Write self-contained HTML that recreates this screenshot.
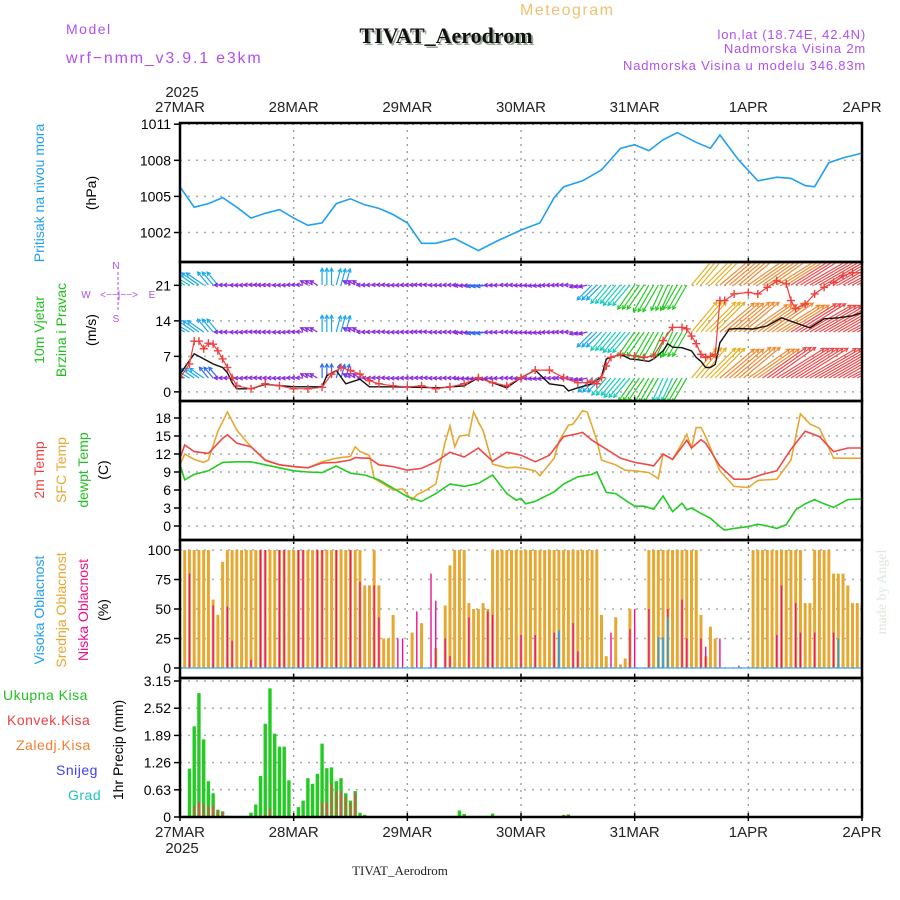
<!DOCTYPE html>
<html><head><meta charset="utf-8"><style>
body{margin:0;background:#fff;}
svg{display:block;font-family:"Liberation Sans",sans-serif;}
</style></head><body>
<svg id="c" width="900" height="900" viewBox="0 0 900 900">
<text x="520" y="15" font-size="16" fill="#f0c070" letter-spacing="1.5">Meteogram</text>
<text x="66" y="34" font-size="14" fill="#b050f0" letter-spacing="1.5">Model</text>
<text x="66" y="63" font-size="16" fill="#b050f0" letter-spacing="1.8">wrf−nmm_v3.9.1 e3km</text>
<text x="446" y="43" font-size="22" font-weight="bold" font-family="Liberation Serif,serif" text-anchor="middle" fill="#9a9" transform="translate(2,2)">TIVAT_Aerodrom</text>
<text x="446" y="43" font-size="22" font-weight="bold" font-family="Liberation Serif,serif" text-anchor="middle" fill="#111">TIVAT_Aerodrom</text>
<text x="866" y="39" font-size="13" fill="#b050f0" text-anchor="end" letter-spacing="0.8">lon,lat (18.74E, 42.4N)</text>
<text x="866" y="53" font-size="13" fill="#b050f0" text-anchor="end" letter-spacing="0.8">Nadmorska Visina 2m</text>
<text x="866" y="70" font-size="13" fill="#b050f0" text-anchor="end" letter-spacing="0.8">Nadmorska Visina u modelu 346.83m</text>
<g id="plots"></g>
<text transform="translate(44,193) rotate(-90)" font-size="14" fill="#20a0f0" text-anchor="middle">Pritisak na nivou mora</text>
<text transform="translate(96,193) rotate(-90)" font-size="14" fill="#000" text-anchor="middle">(hPa)</text>
<text transform="translate(44,330) rotate(-90)" font-size="14" fill="#20c020" text-anchor="middle">10m Vjetar</text>
<text transform="translate(66,330) rotate(-90)" font-size="14" fill="#20c020" text-anchor="middle">Brzina i Pravac</text>
<text transform="translate(96,330) rotate(-90)" font-size="14" fill="#000" text-anchor="middle">(m/s)</text>
<g font-size="10" fill="#b050f0">
<text x="116" y="269" text-anchor="middle">N</text>
<text x="86" y="298" text-anchor="middle">W</text>
<text x="152" y="298" text-anchor="middle">E</text>
<text x="116" y="322" text-anchor="middle">S</text>
<text x="119" y="298" text-anchor="middle" font-size="10">&lt;−−|−−&gt;</text>
<line x1="118" y1="272" x2="118" y2="312" stroke="#b050f0" stroke-dasharray="3,2"/>
</g>
<text transform="translate(44,470) rotate(-90)" font-size="14" fill="#f04040" text-anchor="middle">2m Temp</text>
<text transform="translate(66,470) rotate(-90)" font-size="14" fill="#e8a830" text-anchor="middle">SFC Temp</text>
<text transform="translate(88,470) rotate(-90)" font-size="14" fill="#20c020" text-anchor="middle">dewpt Temp</text>
<text transform="translate(108,470) rotate(-90)" font-size="14" fill="#000" text-anchor="middle">(C)</text>
<text transform="translate(44,610) rotate(-90)" font-size="14" fill="#20a0f0" text-anchor="middle">Visoka Oblacnost</text>
<text transform="translate(66,610) rotate(-90)" font-size="14" fill="#e8a830" text-anchor="middle">Srednja Oblacnost</text>
<text transform="translate(88,610) rotate(-90)" font-size="14" fill="#f0108a" text-anchor="middle">Niska Oblacnost</text>
<text transform="translate(108,610) rotate(-90)" font-size="14" fill="#000" text-anchor="middle">(%)</text>
<text x="3" y="700" font-size="14" fill="#20c020" letter-spacing="0.5">Ukupna Kisa</text>
<text x="7" y="725" font-size="14" fill="#f04040" letter-spacing="0.5">Konvek.Kisa</text>
<text x="16" y="750" font-size="14" fill="#f08030" letter-spacing="0.5">Zaledj.Kisa</text>
<text x="56" y="775" font-size="14" fill="#4040f0" letter-spacing="0.5">Snijeg</text>
<text x="68" y="800" font-size="14" fill="#20c0c0" letter-spacing="0.5">Grad</text>
<text transform="translate(123,750) rotate(-90)" font-size="14" fill="#000" text-anchor="middle">1hr Precip (mm)</text>
<text transform="translate(886,592) rotate(-90)" font-size="14" fill="#dde8dd" font-family="Liberation Serif,serif" text-anchor="middle">made by Angel</text>
<text x="400" y="875" font-size="13" font-family="Liberation Serif,serif" text-anchor="middle" fill="#222">TIVAT_Aerodrom</text>
</svg>
<script>
const dayLabels=["27MAR","28MAR","29MAR","30MAR","31MAR","1APR","2APR"];
const pressTicks=[1002,1005,1008,1011];
const windTicks=[0,7,14,21];
const tempTicks=[0,3,6,9,12,15,18];
const cloudTicks=[0,25,50,75,100];
const precipTicks=[0,0.63,1.26,1.89,2.52,3.15];

const pressHours=[0,3,6,9,12,15,18,21,24,27,30,33,36,39,42,45,48,51,54,58,63,67,72,76,79,81,85,89,93,96,99,102,105,109,112,114,118,122,126,129,132,134,137,140,144];
const pressVals=[1005.8,1004.1,1004.4,1004.9,1004.1,1003.2,1003.6,1003.9,1003.2,1002.6,1002.8,1004.4,1004.8,1004.3,1004.0,1003.5,1002.8,1001.1,1001.1,1001.5,1000.5,1001.3,1002.2,1002.8,1004.9,1005.8,1006.3,1007.2,1009.0,1009.3,1008.8,1009.7,1010.3,1009.5,1009.0,1010.1,1008.0,1006.3,1006.6,1006.5,1005.9,1005.8,1007.8,1008.2,1008.6];

const t2Hours=[0,1,3,6,9,10,12,15,18,21,24,27,30,33,36,37,39,40,42,45,48,51,54,57,60,63,66,69,72,75,78,81,84,85,87,90,93,96,99,100,102,104,106,107,108,110,111,114,117,120,123,126,129,132,135,138,141,144];
const t2Vals=[11.3,13.5,12.4,12.1,14.6,15.2,13.8,13.2,11.0,10.2,9.9,9.7,10.5,10.6,11.0,11.4,11.3,11.3,10.2,9.9,9.3,9.6,10.7,12.3,11.5,13.0,10.8,12.3,11.8,10.7,11.8,14.9,15.4,15.6,14.3,12.8,11.3,10.6,10.2,10.0,12.0,11.1,13.2,14.3,13.0,14.4,13.8,10.0,7.8,7.8,8.6,9.2,12.8,15.8,14.9,12.4,13.0,13.0];
const sfcHours=[0,1,3,5,6,8,10,12,14,15,18,21,24,27,30,33,36,37,38,40,41,43,45,47,49,50,52,54,56,57,58,59,61,62,63,64,66,69,71,72,75,76,79,80,82,83,85,86,88,89,90,92,94,96,99,101,102,104,106,107,108,109,110,111,114,117,120,122,126,129,131,133,135,138,141,144];
const sfcVals=[10.2,12.0,11.1,10.6,11.0,15.8,19.0,16.0,14.1,13.2,10.9,10.2,9.9,9.7,10.7,11.3,11.6,13.2,12.4,11.8,7.9,7.0,6.0,6.2,4.3,5.2,6.0,7.0,14.0,16.7,13.2,15.0,15.2,19.0,17.3,15.9,10.3,9.7,9.8,9.7,9.2,8.4,11.3,14.1,16.8,17.0,19.2,19.0,14.3,11.0,10.7,10.2,9.3,9.2,8.9,7.9,12.0,11.1,13.8,15.3,13.0,16.4,16.4,14.9,9.2,6.6,6.4,7.6,7.8,11.0,18.7,17.0,16.3,11.3,11.3,11.3];
const dewHours=[0,1,3,6,9,12,15,18,21,24,27,30,33,36,39,42,45,48,51,54,57,60,63,66,69,71,72,73,75,79,81,84,87,88,90,92,95,96,98,100,102,104,106,107,108,110,112,114,115,117,120,122,124,126,128,130,132,134,136,138,141,144];
const dewVals=[10.2,7.7,8.6,9.2,10.6,10.7,10.7,10.2,9.7,9.2,9.0,8.9,10.0,8.8,8.5,7.7,6.3,4.9,4.1,5.4,7.0,6.6,7.1,8.5,5.4,4.3,4.6,3.7,4.1,5.7,7.0,8.2,8.6,9.0,5.6,5.4,3.8,3.3,3.3,2.8,5.0,2.4,3.8,2.7,3.0,2.1,1.3,-0.1,-0.7,-0.4,-0.1,0.3,0.0,-0.4,0.2,2.7,3.7,4.4,3.7,3.1,4.4,4.5];

const spdHours=[0,2,3,4,5,6,7,8,9,10,11,12,15,18,21,24,27,30,32,34,36,38,40,42,45,48,51,54,57,60,63,66,69,72,75,78,81,84,86,87,88,89,90,91,93,96,98,100,102,104,106,107,108,109,110,111,112,113,114,115,117,120,122,124,126,128,129,130,132,134,136,138,140,142,144];
const spdVals=[2.8,5.5,10,10,8.5,9.6,9.4,8.1,6.5,4.8,2.8,1.2,0.6,1.6,1.2,0.6,0.6,0.9,3.5,4.8,4.2,3.5,2.2,1.6,1.2,1.0,1.2,0.6,1.0,1.6,2.8,1.8,1.2,2.8,4.3,4.3,2.8,1.8,1.8,2.1,1.6,2.8,5.1,6.8,7.4,7.1,6.8,7.1,10.1,12.7,12.7,12.4,11,9.5,7.4,6.8,7.0,7.4,18,18,19.3,19.6,19.3,20.6,21.9,21.3,18,16.4,17.3,19.3,20.6,21.6,22.9,23.5,23.5];
const gustHours=[0,3,5,7,9,10,11,12,15,18,24,30,31,33,35,38,40,45,50,55,60,63,66,69,72,75,78,81,82,84,87,89,90,93,95,97,99,100,102,103,104,106,108,109,110,111,112,113,114,116,118,121,124,127,130,133,136,139,142,144];
const gustVals=[3.5,7.5,6.5,5.5,4.8,3.8,1.8,0.6,0.6,1.5,1.0,1.0,3.2,4.2,1.6,2.5,1.0,1.0,0.9,0.8,1.2,2.8,1.8,0.8,2.8,4.3,1.6,1.2,0.2,0.8,1.6,3.0,6.5,7.4,6.5,6.3,6.0,6.5,8.1,9.5,8.8,8.7,8.1,6.8,6.0,4.8,4.8,5.4,9.7,12.4,12.5,12.4,13.0,14.6,13.6,12.6,14.4,14.6,15.0,15.6];

// wind arrows, every 3 hours: direction arrow points to (deg, 0 = up, clockwise)
const windDir=[300,305,320,270,268,272,270,268,272,300,0,15,300,270,272,268,270,272,268,270,265,262,268,270,265,262,268,270,255,225,220,220,215,210,205,210,40,45,50,50,55,55,58,58,60,60,60,62,62];
const windLow=[7,6,5,3,2.5,2.5,2.5,2.5,2.5,3,5,5,3,2.5,2.5,2.5,2.5,2.5,2.5,2.5,3,3,3,2.5,2.5,2.5,2.5,3,3,7,8,9,10,10,9,10,14,15,16,17,18,19,20,20,21,21,22,22,22];
const windMid=[7.5,7,6,3,2.5,2.5,2.8,2.5,2.5,3,6,6,3,2.8,2.5,2.5,2.5,2.8,2.5,2.5,3.5,4,3,2.5,2.5,2.5,2.8,3,3,7.5,8.5,9.5,10.5,11,10,10,14,15,16,16.5,17,18,18,19,19,20,20,20,20];
const windTop=[8,7.5,6,3,2.5,2.5,2.8,2.5,2.5,3,6,6,3,2.8,2.5,2.5,2.5,2.8,2.5,2.5,3.5,4,3,2.5,2.5,2.5,2.8,3,3,7.5,8.5,9.5,10.5,11,10,10,14,15,16,16.5,17,18,18,19,19,20,20,20,20];

const midCloud=[100,100,100,100,100,100,58,45,90,100,100,100,100,100,100,100,100,100,100,100,100,100,100,100,100,100,100,100,100,100,100,100,100,100,100,100,100,100,70,70,100,70,25,25,45,0,0,0,30,0,38,0,0,17,0,53,87,100,100,100,55,50,50,55,50,100,100,100,100,100,100,100,100,100,100,100,100,100,100,100,100,100,100,100,100,100,100,100,45,10,0,43,3,8,50,0,0,0,100,100,100,100,100,100,100,100,100,100,100,45,10,35,25,0,0,0,0,0,0,0,100,100,100,100,100,100,100,100,100,100,100,55,55,100,100,100,100,80,80,80,70,55,55,55];
const lowCloud=[0,80,0,0,0,0,53,0,0,52,23,0,0,0,7,0,100,100,0,0,100,100,0,0,100,100,0,0,100,100,0,0,100,0,0,100,0,73,0,0,70,43,0,0,0,25,25,0,0,48,0,0,80,57,0,25,10,0,0,0,43,0,0,0,48,45,0,0,0,0,0,28,0,0,28,0,0,0,30,30,0,0,38,14,0,0,0,0,0,0,30,0,0,0,33,50,0,0,50,0,0,0,50,0,0,58,25,0,0,25,18,0,0,25,0,0,0,2,0,0,0,0,0,0,0,28,70,0,0,55,30,0,0,30,0,0,0,30,0,0,0,0,0,0];
const highCloud=[0,0,0,0,0,0,0,0,0,0,0,0,0,0,0,0,0,0,0,0,0,0,0,0,0,0,0,0,0,0,0,0,0,0,0,0,0,0,0,0,0,0,0,0,0,0,0,0,0,0,0,0,0,0,0,0,0,0,0,0,0,0,0,0,0,0,0,0,0,0,0,0,0,0,0,0,0,0,0,32,0,0,0,0,0,0,0,0,0,0,0,0,0,0,0,0,0,0,0,0,26,26,43,0,0,0,0,0,0,0,0,0,0,0,0,0,0,0,0,0,0,0,0,0,0,0,0,0,0,0,0,0,0,0,0,0,0,0,25,0,0,0,0,0];

const totalPrecip=[0.03,1.12,2.1,2.87,1.8,0.83,0.55,0.17,0.13,0.03,0.01,0,0.01,0.02,0.1,0.29,0.95,2.16,2.98,1.93,1.63,1.63,0.85,0,0.23,0.38,0.9,0.77,1.0,1.7,1.13,1.15,0.83,0.9,0.55,0.38,0.6,0.1,0.05,0,0,0,0,0,0,0,0,0,0,0,0,0,0,0,0,0,0,0,0.15,0.07,0,0,0,0,0,0.08,0,0,0,0,0,0,0,0,0,0,0,0,0,0,0.05,0.06,0,0,0,0,0,0,0,0,0,0,0,0,0,0,0,0,0,0,0,0,0,0,0,0,0,0,0,0,0,0,0,0,0,0,0,0,0,0,0,0,0,0,0,0,0,0,0,0,0,0,0,0,0,0,0,0,0,0,0,0];
const convPrecip=[0,0,0.25,0.35,0.3,0.25,0.27,0.15,0.13,0.02,0,0,0,0,0.01,0.02,0.03,0.05,0.2,0,0,0,0,0,0,0,0,0,0,0.35,0.33,0.77,0.6,0.6,0.47,0.33,0.55,0.05,0,0,0,0,0,0,0,0,0,0,0,0,0,0,0,0,0,0,0,0,0,0,0,0,0,0,0,0,0,0,0,0,0,0,0,0,0,0,0,0,0,0,0.04,0.05,0,0,0,0,0,0,0,0,0,0,0,0,0,0,0,0,0,0,0,0,0,0,0,0,0,0,0,0,0,0,0,0,0,0,0,0,0,0,0,0,0,0,0,0,0,0,0,0,0,0,0,0,0,0,0,0,0,0,0,0];

const NS="http://www.w3.org/2000/svg";
const X0=180,X1=862,H=144;
function X(h){return X0+(X1-X0)*h/H;}
function mk(tag,attrs,parent){const e=document.createElementNS(NS,tag);for(const k in attrs)e.setAttribute(k,attrs[k]);parent.appendChild(e);return e;}
const root=document.getElementById('plots');
const panels=[
 {name:'pressure',top:123,bot:262,min:999.55,max:1011.1,ticks:pressTicks,fmt:v=>v},
 {name:'wind',top:262,bot:401,min:-1.8,max:25.6,ticks:windTicks,fmt:v=>v},
 {name:'temp',top:401,bot:540,min:-2.33,max:20.83,ticks:tempTicks,fmt:v=>v},
 {name:'cloud',top:540,bot:678,min:-8.5,max:108.5,ticks:cloudTicks,fmt:v=>v},
 {name:'precip',top:678,bot:817,min:0,max:3.22,ticks:precipTicks,fmt:v=>v}
];
function Yf(p){return v=>p.bot-(v-p.min)/(p.max-p.min)*(p.bot-p.top);}
panels.forEach(p=>{
 const Y=Yf(p);p.Y=Y;
 const g=mk('g',{},root);
 
 
 p.g=g;
 const cp=mk('clipPath',{id:'clip-'+p.name},g);
 mk('rect',{x:X0,y:p.top,width:X1-X0,height:p.bot-p.top},cp);
 for(let d=1;d<6;d++){const l=mk('line',{x1:X(d*24),x2:X(d*24),y1:p.top,y2:p.bot,stroke:'#999','stroke-dasharray':'2,5','stroke-width':1.3},g);
  
  }
 p.ticks.forEach(t=>{
  const y=Y(t);
  const gl=mk('line',{x1:X0,x2:X1,y1:y,y2:y,stroke:'#aaa','stroke-dasharray':'2,6','stroke-width':1.5},g);
  
  
  mk('line',{x1:X0-6,x2:X0,y1:y,y2:y,stroke:'#000','stroke-width':1.5},g);
  const tx=mk('text',{x:X0-9,y:y+5,'font-size':14,'text-anchor':'end',fill:'#000'},g);
  tx.textContent=p.fmt(t);
  
  
 });
 p.layer=mk('g',{'clip-path':'url(#clip-'+p.name+')'},g);
});
function frames(){panels.forEach(p=>{
 const r=mk('rect',{x:X0,y:p.top,width:X1-X0,height:p.bot-p.top,fill:'none',stroke:'#000','stroke-width':2.5},p.g);
 
 
 for(let d=0;d<=6;d++){mk('line',{x1:X(d*24),x2:X(d*24),y1:p.bot-4,y2:p.bot+4,stroke:'#000','stroke-width':1.5},p.g);}
});}
function line(p,hours,vals,color,name,w){
 const d=hours.map((h,i)=>(i?'L':'M')+X(h).toFixed(1)+','+p.Y(vals[i]).toFixed(1)).join('');
 const e=mk('path',{d:d,fill:'none',stroke:color,'stroke-width':w||1.5},p.layer);
 
 
}
// pressure
line(panels[0],pressHours,pressVals,'#20a0f0','pressure-line',1.6);
// wind
const wp=panels[1];
function wcol(s){if(s<4)return'#8a2be2';if(s<6)return'#2a6cf0';if(s<8)return'#18a8f0';if(s<10)return'#18ccb8';if(s<12)return'#22cc22';if(s<14)return'#9ad81c';if(s<16)return'#e8b020';if(s<19)return'#f08a30';return'#f04848';}
const rows=[[378,windLow],[332,windMid],[285,windTop]];
rows.forEach(([ry,arr],ri)=>{
 windDir.forEach((dir,i)=>{
  const s=arr[i];const L=s*2.8;const a=dir*Math.PI/180;
  for(let k=0;k<3;k++){
   const h=i*3+k; if(h>H)break;
   const x=X(h),x2=x+L*Math.sin(a),y2=ry-L*Math.cos(a);
   const c=wcol(s);
   const ln=mk('line',{x1:x,y1:ry,x2:x2,y2:y2,stroke:c,'stroke-width':1.2},wp.layer);
   
   
   const ha=a+Math.PI;
   const hx1=x2+4*Math.sin(ha+0.5),hy1=y2-4*Math.cos(ha+0.5),hx2=x2+4*Math.sin(ha-0.5),hy2=y2-4*Math.cos(ha-0.5);
   mk('path',{d:`M${hx1},${hy1}L${x2},${y2}L${hx2},${hy2}`,fill:'none',stroke:c,'stroke-width':1.2},wp.layer);
  }
 });
});
line(wp,gustHours,gustVals,'#111','wind-gust-line',1.4);
line(wp,spdHours,spdVals,'#f04040','wind-speed-line',1.2);
spdHours.forEach((h,i)=>{const x=X(h),y=wp.Y(spdVals[i]);
 const m=mk('path',{d:`M${x-4},${y}h8M${x},${y-4}v8`,stroke:'#f04040','stroke-width':1.4},wp.layer);
 
 });
// temps
const tp=panels[2];
line(tp,sfcHours,sfcVals,'#e8a830','sfc-temp-line',1.6);
line(tp,t2Hours,t2Vals,'#f04848','temp-2m-line',1.6);
line(tp,dewHours,dewVals,'#22cc22','dewpoint-line',1.6);
// clouds
const cl=panels[3];
midCloud.forEach((v,i)=>{const h=i+1;if(v<=0)return;const y=cl.Y(v),y0=cl.Y(0);
 const r=mk('rect',{x:X(h)-1.5,y:y,width:3,height:y0-y,fill:'#e8a830'},cl.layer);
 
 });
lowCloud.forEach((v,i)=>{const h=i+1;if(v<=0)return;const y=cl.Y(v),y0=cl.Y(0);
 const r=mk('rect',{x:X(h)-0.7,y:y,width:1.4,height:y0-y,fill:'#f0108a'},cl.layer);
 
 });
highCloud.forEach((v,i)=>{const h=i+1;if(v<=0)return;const y=cl.Y(v),y0=cl.Y(0);
 const r=mk('rect',{x:X(h)-0.8,y:y,width:1.6,height:y0-y,fill:'#20a0f0'},cl.layer);
 
 });
mk('line',{x1:X0,x2:X1,y1:cl.Y(0),y2:cl.Y(0),stroke:'#40a8f0','stroke-width':1.2},cl.layer);
// precip
const pp=panels[4];
totalPrecip.forEach((v,i)=>{const h=i+1;if(v<=0)return;const y=pp.Y(v),y0=pp.Y(0);
 const r=mk('rect',{x:X(h)-1.7,y:y,width:3.4,height:y0-y,fill:'#22cc22'},pp.layer);
 
 });
convPrecip.forEach((v,i)=>{const h=i+1;if(v<=0)return;const y=pp.Y(v),y0=pp.Y(0);
 const r=mk('rect',{x:X(h)-0.8,y:y,width:1.6,height:y0-y,fill:'#f04848'},pp.layer);
 
 });
frames();
// day labels
const svg=document.getElementById('c');
dayLabels.forEach((d,i)=>{
 [112,837].forEach(y=>{const t=mk('text',{x:X(i*24),y:y,'font-size':15,'text-anchor':'middle',fill:'#222'},svg);
  t.textContent=d;
  
  });
});
[97,853].forEach(y=>{const t=mk('text',{x:X(0)+2,y:y,'font-size':15,'text-anchor':'middle',fill:'#222'},svg);
 t.textContent='2025';
 
 });
</script>
</body></html>
